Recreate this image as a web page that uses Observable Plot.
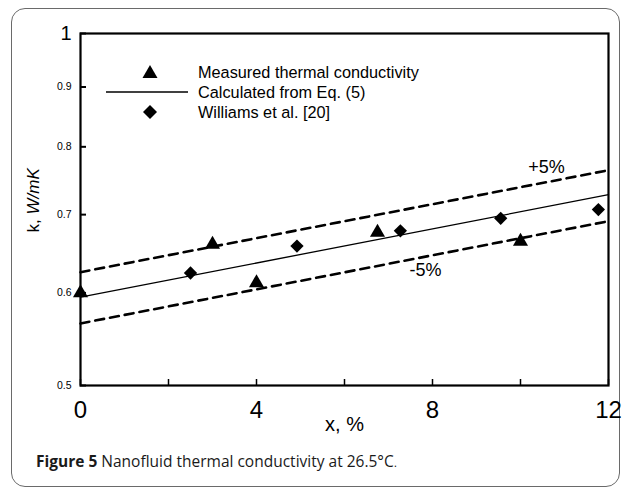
<!DOCTYPE html>
<html><head><meta charset="utf-8">
<script src="https://cdn.jsdelivr.net/npm/d3@7"></script>
<script src="https://cdn.jsdelivr.net/npm/@observablehq/plot@0.6"></script>
<style>
body{margin:0;width:627px;height:490px;position:relative;overflow:hidden;background:#fff;font-family:"Liberation Sans",Arial,sans-serif;}
#border{position:absolute;left:11px;top:8px;width:609px;height:479px;border:1.5px solid #6a6a6a;border-radius:14px;box-sizing:border-box;}
#chart{position:absolute;left:0;top:0;}
.leg{position:absolute;left:0;top:0;width:627px;height:140px;pointer-events:none;}
.legrow{position:absolute;font-size:16.3px;line-height:20px;color:#000;white-space:nowrap;}
#caption{position:absolute;left:36px;top:450px;font-family:"Open Sans",sans-serif;font-size:15.5px;line-height:22px;color:#1a1a1a;white-space:nowrap;}
#caption b{font-weight:700;}
#caption .dot{font-family:"Liberation Sans",Arial,sans-serif;font-size:12px;}
</style></head>
<body>
<div id="border"></div>
<div id="chart"></div>
<div class="leg" id="legend"></div>
<div id="caption"><b>Figure 5</b> Nanofluid thermal conductivity at 26.5°C<span class="dot">.</span></div>
<script>
// Measured thermal conductivity (triangles)
const measuredX = [0, 3.0, 4.0, 6.75, 10.0];
const measuredK = [0.600, 0.660, 0.612, 0.676, 0.664];
// Williams et al. [20] (diamonds)
const williamsX = [2.5, 4.92, 7.27, 9.55, 11.77];
const williamsK = [0.624, 0.658, 0.678, 0.695, 0.707];
// Calculated from Eq. (5) and ±5% bands (end points)
const lineX = [0, 12];
const calcK = [0.595, 0.728];
const plusK = [0.625, 0.764];
const minusK = [0.565, 0.691];
// Band annotations
const annoText = ["+5%", "-5%"];
const annoX = [10.59, 7.84];
const annoK = [0.769, 0.627];
// Axis ticks
const xTicks = [0, 2, 4, 6, 8, 10, 12];
const xTickLabels = [0, 4, 8, 12];
const yTicks = [0.5, 0.6, 0.7, 0.8, 0.9, 1];
const ySmallLabels = [0.5, 0.6, 0.7, 0.8, 0.9];
const yBigLabels = [1];
const legendLabels = ["Measured thermal conductivity", "Calculated from Eq. (5)", "Williams et al. [20]"];

const measured = measuredX.map((x, i) => ({x, k: measuredK[i]}));
const williams = williamsX.map((x, i) => ({x, k: williamsK[i]}));
const calc = lineX.map((x, i) => ({x, k: calcK[i]}));
const plus = lineX.map((x, i) => ({x, k: plusK[i]}));
const minus = lineX.map((x, i) => ({x, k: minusK[i]}));
const annos = annoText.map((t, i) => ({t, x: annoX[i], k: annoK[i]}));

const diamond = {
  draw(ctx, size) {
    const h = Math.sqrt(size) / Math.SQRT2;
    ctx.moveTo(0, -h); ctx.lineTo(h, 0); ctx.lineTo(0, h); ctx.lineTo(-h, 0); ctx.closePath();
  }
};

const chart = Plot.plot({
  width: 627, height: 490,
  marginLeft: 80, marginRight: 19, marginTop: 33, marginBottom: 105,
  style: {fontFamily: "'Liberation Sans', Arial, sans-serif", color: "#000", background: "transparent"},
  x: {domain: [0, 12]},
  y: {type: "log", domain: [0.5, 1]},
  marks: [
    Plot.line(plus, {x: "x", y: "k", stroke: "#000", strokeWidth: 2.6, strokeDasharray: "9,6"}),
    Plot.line(minus, {x: "x", y: "k", stroke: "#000", strokeWidth: 2.6, strokeDasharray: "9,6"}),
    Plot.line(calc, {x: "x", y: "k", stroke: "#000", strokeWidth: 1.3}),
    Plot.dot(williams, {x: "x", y: "k", symbol: diamond, r: 5.3, fill: "#000", stroke: "none"}),
    Plot.dot(measured, {x: "x", y: "k", symbol: "triangle", r: 5.6, fill: "#000", stroke: "none"}),
    Plot.text(annos, {x: "x", y: "k", text: "t", fontSize: 18, fill: "#000"}),
    Plot.axisX(xTicks, {tickSize: -6, tickFormat: () => "", label: null, strokeWidth: 1.5}),
    Plot.axisX(xTickLabels, {tickSize: 0, tickPadding: 15, fontSize: 24, label: null, tickFormat: d => String(d)}),
    Plot.axisY(yTicks, {tickSize: -6, tickFormat: () => "", label: null, strokeWidth: 2}),
    Plot.axisY(ySmallLabels, {tickSize: 0, tickPadding: 9, fontSize: 10.5, label: null, tickFormat: d => String(d)}),
    Plot.axisY(yBigLabels, {tickSize: 0, tickPadding: 9, fontSize: 20, label: null, tickFormat: d => String(d)}),
    Plot.text(["x, %"], {frameAnchor: "bottom", dy: 45, fontSize: 20, fill: "#000"}),
    Plot.text(["k,"], {frameAnchor: "left", dx: -47, dy: 23, rotate: -90, textAnchor: "start", fontSize: 17, fill: "#000"}),
    Plot.text(["W/mK"], {frameAnchor: "left", dx: -47, dy: 5, rotate: -90, textAnchor: "start", fontSize: 17, fontStyle: "italic", fill: "#000"}),
    Plot.frame({stroke: "#000", strokeWidth: 2.2})
  ]
});
document.getElementById("chart").appendChild(chart);

// Legend (HTML overlay)
const leg = document.getElementById("legend");
const rowsY = [72, 92, 112];
const symbols = [
  '<svg width="16" height="14" style="position:absolute;left:142px;top:-7px;overflow:visible"><path d="M8,0 L15.5,13 L0.5,13 Z" fill="#000"/></svg>',
  '<svg width="82" height="4" style="position:absolute;left:106px;top:-1px;overflow:visible"><line x1="0" y1="1" x2="82" y2="1" stroke="#000" stroke-width="1.3"/></svg>',
  '<svg width="14" height="14" style="position:absolute;left:143px;top:-7px;overflow:visible"><path d="M7,0 L14,7 L7,14 L0,7 Z" fill="#000"/></svg>'
];
legendLabels.forEach((lab, i) => {
  const row = document.createElement("div");
  row.style.position = "absolute";
  row.style.left = "0px";
  row.style.top = rowsY[i] + "px";
  row.innerHTML = symbols[i] + '<div class="legrow" style="left:198px;top:-10px">' + lab + '</div>';
  leg.appendChild(row);
});
</script>
</body></html>
